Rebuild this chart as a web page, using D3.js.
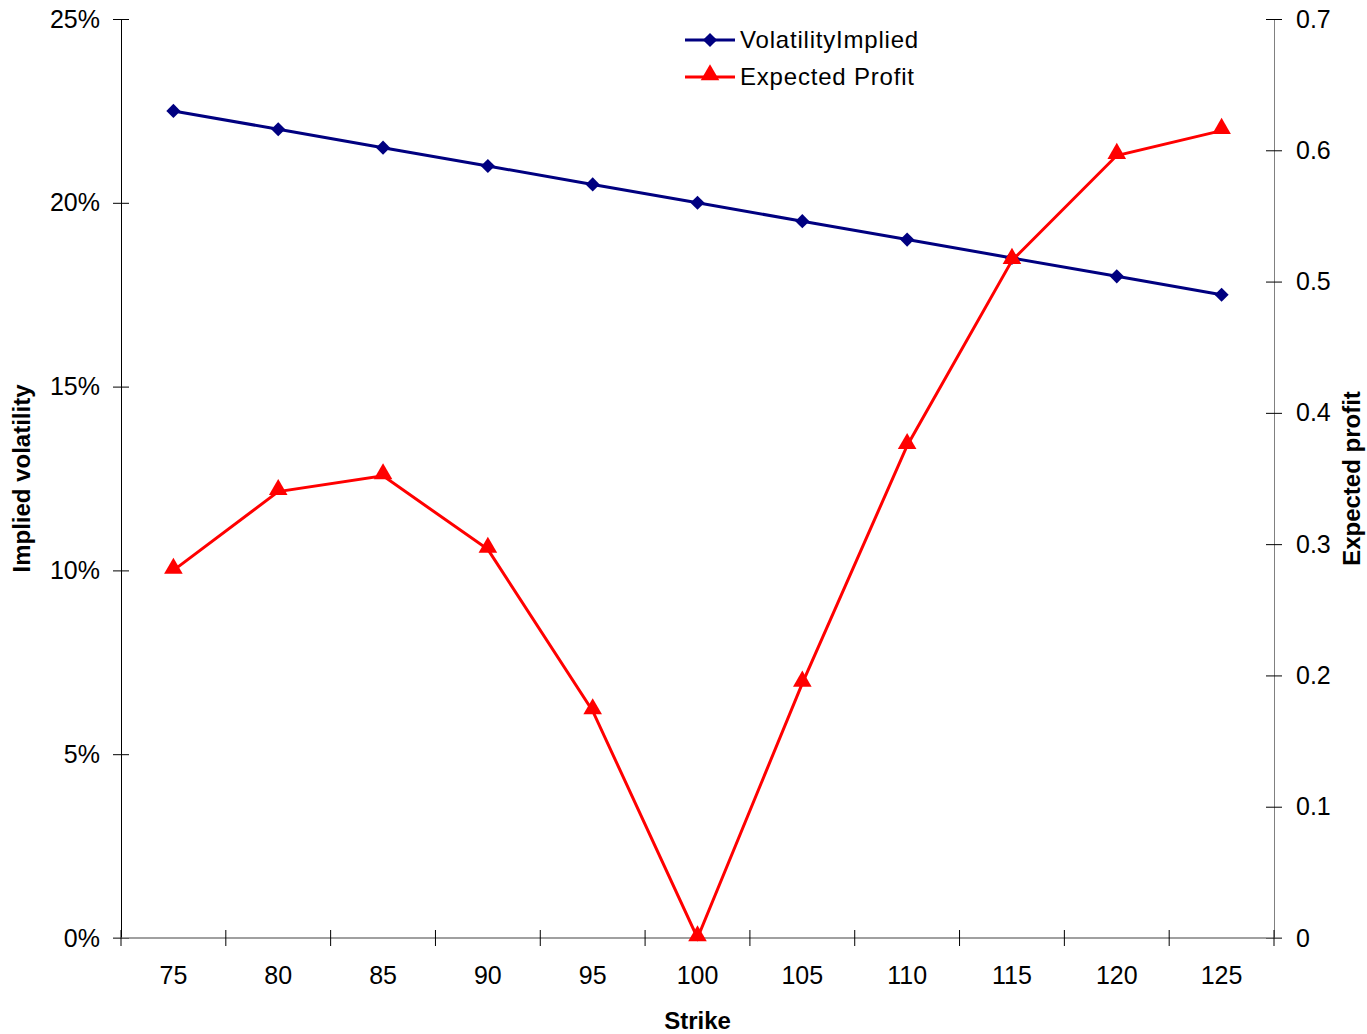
<!DOCTYPE html>
<html>
<head>
<script src="https://d3js.org/d3.v7.min.js"></script>
<style>
  body { margin: 0; background: #fff; }
  svg { font-family: "Liberation Sans", Arial, sans-serif; }
</style>
</head>
<body>
<div id="chart"></div>
<script>
// chart data
var strikes = [75, 80, 85, 90, 95, 100, 105, 110, 115, 120, 125];
var volImplied = [0.225, 0.22, 0.215, 0.21, 0.205, 0.20, 0.195, 0.19, 0.185, 0.18, 0.175];
var expProfit = [0.280, 0.340, 0.352, 0.296, 0.173, 0.0, 0.194, 0.375, 0.516, 0.596, 0.615];
var leftTicks = [0, 0.05, 0.10, 0.15, 0.20, 0.25];
var rightTicks = [0, 0.1, 0.2, 0.3, 0.4, 0.5, 0.6, 0.7];

var width = 1367, height = 1034;
var pLeft = 121, pRight = 1274, pTop = 19, pBottom = 938;

var svg = d3.select("#chart").append("svg")
  .attr("width", width).attr("height", height);

var x = d3.scaleBand().domain(strikes).range([pLeft, pRight]);
var yL = d3.scaleLinear().domain([0, 0.25]).range([pBottom, pTop]);
var yR = d3.scaleLinear().domain([0, 0.7]).range([pBottom, pTop]);
var cx = d => x(d) + x.bandwidth() / 2;

/* axes */
var axisL = svg.append("g")
  .attr("transform", `translate(${pLeft},0)`)
  .call(d3.axisLeft(yL).tickValues(leftTicks).tickFormat(d3.format(".0%")).tickSizeInner(8).tickSizeOuter(0).tickPadding(13));
axisL.selectAll(".tick line").attr("x2", 8).attr("x1", -8);

var axisR = svg.append("g")
  .attr("transform", `translate(${pRight},0)`)
  .call(d3.axisRight(yR).tickValues(rightTicks).tickFormat(d => d === 0 ? "0" : d3.format(".1f")(d)).tickSizeInner(8).tickSizeOuter(0).tickPadding(14));
axisR.selectAll(".tick line").attr("x1", -8).attr("x2", 8);
axisR.select(".domain").attr("stroke", "#808080");

var bounds = strikes.map(d => x(d)).concat([pRight]);
var axisB = svg.append("g");
axisB.append("line").attr("x1", pLeft - 8).attr("x2", pRight + 8)
  .attr("y1", pBottom).attr("y2", pBottom).attr("stroke", "#808080").attr("stroke-width", 1.5);
axisB.selectAll(".btick").data(bounds).enter().append("line")
  .attr("x1", d => d).attr("x2", d => d)
  .attr("y1", pBottom - 8).attr("y2", pBottom + 8)
  .attr("stroke", "#000");
axisB.selectAll(".blab").data(strikes).enter().append("text")
  .attr("x", d => cx(d)).attr("y", pBottom + 46)
  .attr("text-anchor", "middle").style("font-size", "25px").text(d => d);

svg.selectAll(".tick text").style("font-size", "25px").attr("fill", "#000");
svg.selectAll(".tick line").attr("stroke", "#000");
axisL.select(".domain").attr("stroke", "#000");

/* axis titles */
svg.append("text").attr("x", (pLeft + pRight) / 2).attr("y", 1029)
  .attr("text-anchor", "middle").style("font-size", "24px").style("font-weight", "bold").text("Strike");
svg.append("text").attr("transform", `translate(30,${(pTop + pBottom) / 2}) rotate(-90)`)
  .attr("text-anchor", "middle").style("font-size", "24px").style("font-weight", "bold").text("Implied volatility");
svg.append("text").attr("transform", `translate(1360,${(pTop + pBottom) / 2}) rotate(-90)`)
  .attr("text-anchor", "middle").style("font-size", "24px").style("font-weight", "bold").text("Expected profit");

/* lines */
var blue = "#000080", red = "#ff0000";
var diamond = d3.symbol().type(d3.symbolSquare).size(100);
var tri = d3.symbol().type(d3.symbolTriangle).size(150);

svg.append("path").datum(strikes)
  .attr("fill", "none").attr("stroke", blue).attr("stroke-width", 3)
  .attr("d", d3.line().x(d => cx(d)).y((d, i) => yL(volImplied[i])));
svg.selectAll(".dm").data(strikes).enter().append("path")
  .attr("d", diamond()).attr("fill", blue)
  .attr("transform", (d, i) => `translate(${cx(d)},${yL(volImplied[i])}) rotate(45)`);

svg.append("path").datum(strikes)
  .attr("fill", "none").attr("stroke", red).attr("stroke-width", 3)
  .attr("d", d3.line().x(d => cx(d)).y((d, i) => yR(expProfit[i])));
svg.selectAll(".tr").data(strikes).enter().append("path")
  .attr("d", tri()).attr("fill", red)
  .attr("transform", (d, i) => `translate(${cx(d)},${yR(expProfit[i]) - 2})`);

/* legend */
var legend = [{name: "VolatilityImplied", color: blue, sym: diamond(), rot: 45}, {name: "Expected Profit", color: red, sym: tri(), rot: 0}];
var lg = svg.selectAll(".lg").data(legend).enter().append("g")
  .attr("transform", (d, i) => `translate(685,${40 + i * 37})`);
lg.append("line").attr("x1", 0).attr("x2", 50).attr("stroke", d => d.color).attr("stroke-width", 3);
lg.append("path").attr("d", d => d.sym).attr("fill", d => d.color)
  .attr("transform", d => `translate(25,${d.rot ? 0 : -2}) rotate(${d.rot})`);
lg.append("text").attr("x", 55).attr("y", 8).style("font-size", "24px").style("letter-spacing", "0.8px").text(d => d.name);
</script>
</body>
</html>
